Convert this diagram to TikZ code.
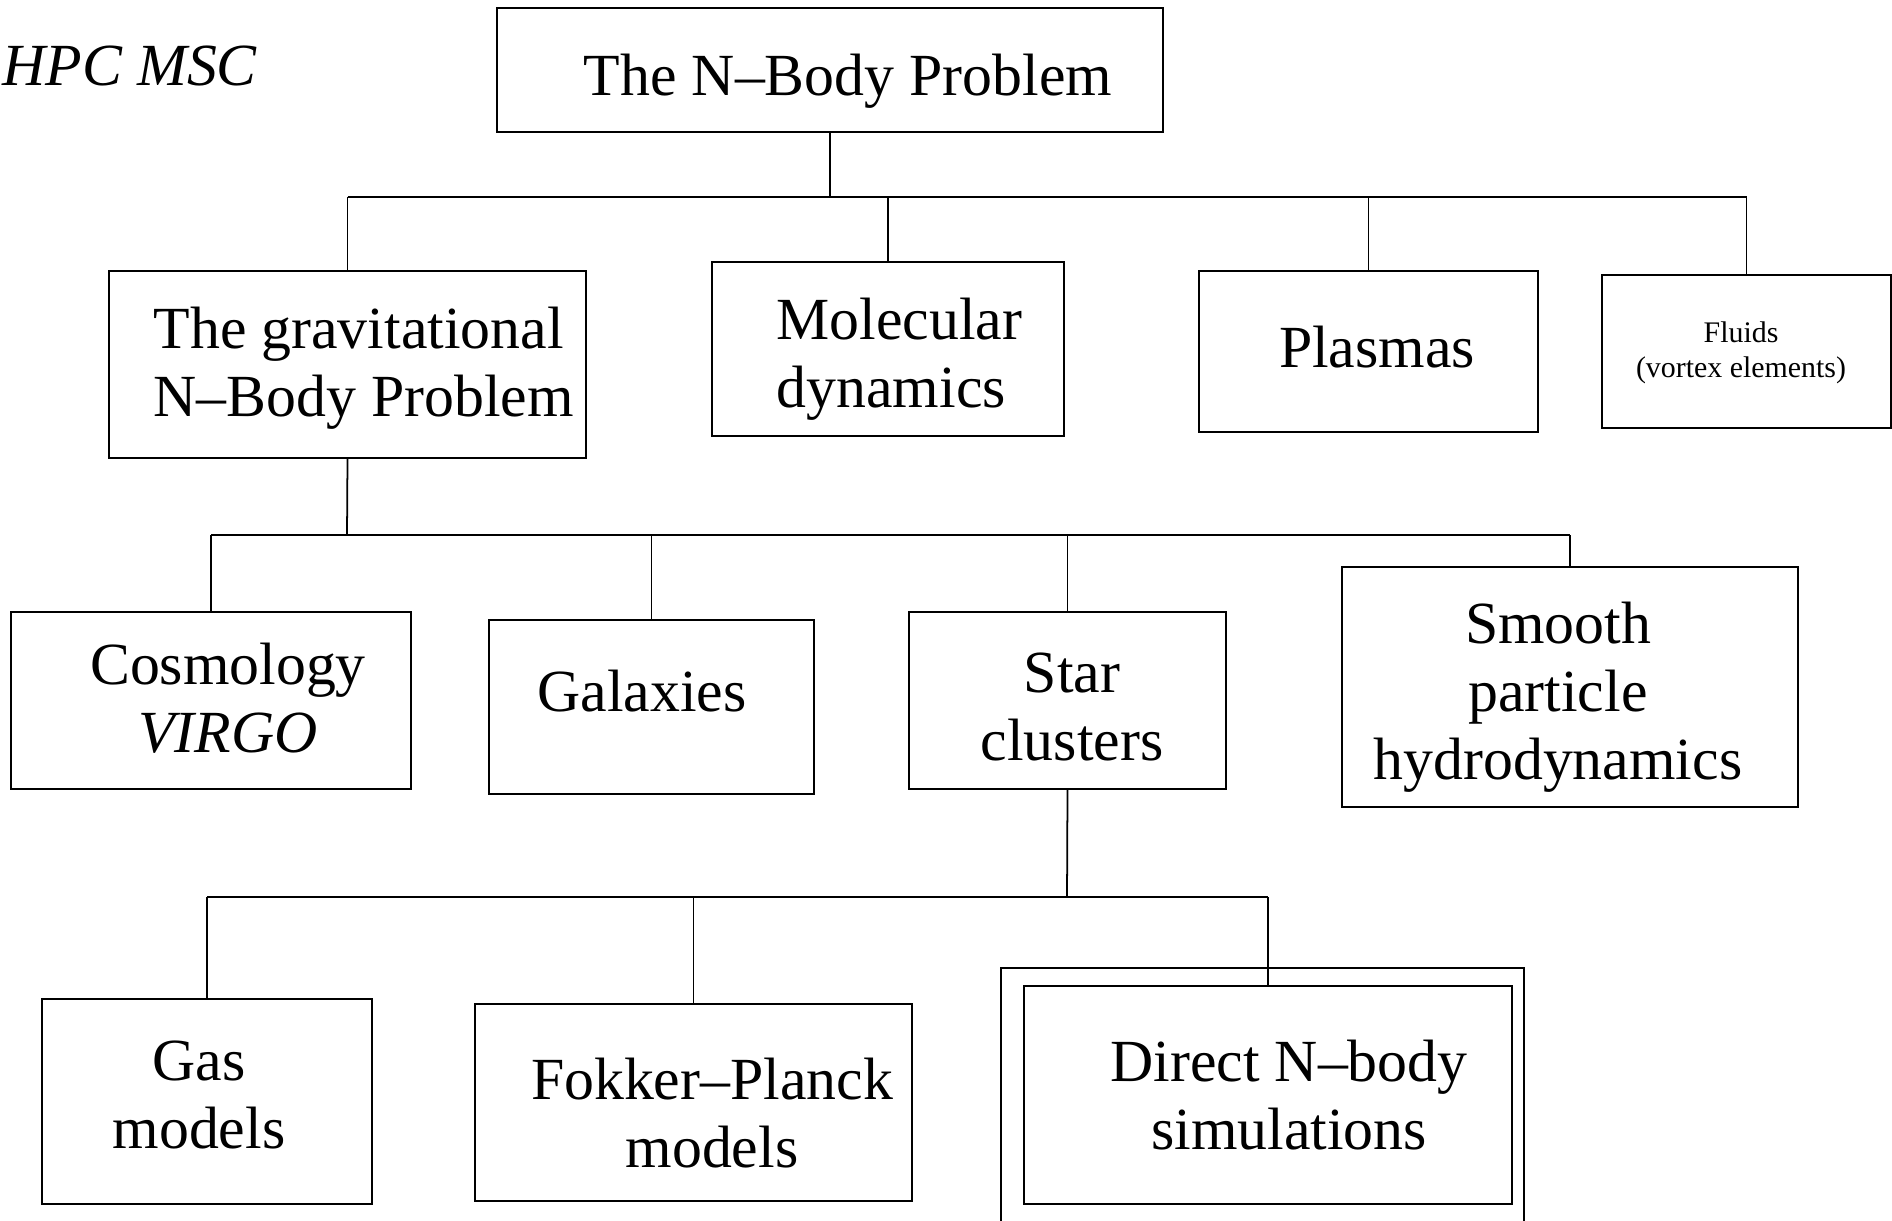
\documentclass[tikz,border=0pt]{standalone}
\usepackage{fontspec}
\setmainfont{Liberation Serif}

\begin{document}
\begin{tikzpicture}[x=0.01cm,y=-0.01cm]
  % Styles
  \tikzset{
    box/.style={draw,line width=0.5pt,inner sep=0pt},
    big/.style={font=\fontsize{17}{19.4}\selectfont,inner sep=0pt,align=center},
    small/.style={font=\fontsize{8.5}{10}\selectfont,inner sep=0pt,align=center},
    link/.style={line width=0.5pt}
  }

  % Page frame (1 unit = 1 pixel of the drawing)
  \useasboundingbox (0,0) rectangle (1892,1220);
  \clip (0,0) rectangle (1892,1220);

  % Corner note
  \node[big,anchor=west,font=\fontsize{17}{19.4}\selectfont\itshape] (hpc) at (2,66) {HPC MSC};

  % Top level
  \node[box,minimum width=6.66cm,minimum height=1.24cm] (top) at (830,70) {};
  \node[big] (top-t) at (848,81) {The N--Body Problem};

  % Second level
  \node[box,minimum width=4.77cm,minimum height=1.87cm] (grav) at (347.5,364.5) {};
  \node[big,align=left,anchor=west] (grav-t) at (153,368) {The gravitational\\N--Body Problem};
  \node[box,minimum width=3.52cm,minimum height=1.74cm] (mol) at (888,349) {};
  \node[big,align=left,anchor=west] (mol-t) at (776,359) {Molecular\\dynamics};
  \node[box,minimum width=3.39cm,minimum height=1.61cm] (plas) at (1368.5,351.5) {};
  \node[big] (plas-t) at (1377,347) {Plasmas};
  \node[box,minimum width=2.89cm,minimum height=1.53cm] (fluid) at (1746.5,351.5) {};
  \node[small] (fluid-t) at (1741,353) {Fluids\\(vortex elements)};

  % Third level
  \node[box,minimum width=4.00cm,minimum height=1.77cm] (cosmo) at (211,700.5) {};
  \node[big] (cosmo-t) at (228,698) {Cosmology\\\textit{VIRGO}};
  \node[box,minimum width=3.25cm,minimum height=1.74cm] (gal) at (651.5,707) {};
  \node[big] (gal-t) at (642,691) {Galaxies};
  \node[box,minimum width=3.17cm,minimum height=1.77cm] (star) at (1067.5,700.5) {};
  \node[big] (star-t) at (1072,707) {Star\\clusters};
  \node[box,minimum width=4.56cm,minimum height=2.40cm] (sph) at (1570,687) {};
  \node[big] (sph-t) at (1558,697) {Smooth\\particle\\hydrodynamics};

  % Fourth level
  \node[box,minimum width=3.30cm,minimum height=2.05cm] (gas) at (207,1101.5) {};
  \node[big] (gas-t) at (199,1095) {Gas\\models};
  \node[box,minimum width=4.37cm,minimum height=1.97cm] (fp) at (693.5,1102.5) {};
  \node[big] (fp-t) at (712,1113) {Fokker--Planck\\models};
  \draw[link] (1001,1240) -- (1001,968) -- (1524,968) -- (1524,1240); % outer frame
  \node[box,minimum width=4.88cm,minimum height=2.18cm] (direct) at (1268,1095) {};
  \node[big] (direct-t) at (1289,1095) {Direct N--body\\simulations};

  % Connectors
  \coordinate (bus1) at (830,197);
  \coordinate (bus2) at (347,535);
  \coordinate (bus3) at (1067,897);

  \draw[link] (top.south) -- (bus1);
  \draw[link] (grav.north |- bus1) -- (fluid.north |- bus1);
  \foreach \n in {grav,mol,plas,fluid}
    \draw[link] (\n.north |- bus1) -- (\n.north);

  \draw[link] (grav.south) -- (bus2);
  \draw[link] (cosmo.north |- bus2) -- (sph.north |- bus2);
  \foreach \n in {cosmo,gal,star,sph}
    \draw[link] (\n.north |- bus2) -- (\n.north);

  \draw[link] (star.south) -- (bus3);
  \draw[link] (gas.north |- bus3) -- (direct.north |- bus3);
  \foreach \n in {gas,fp,direct}
    \draw[link] (\n.north |- bus3) -- (\n.north);

\end{tikzpicture}
\end{document}
